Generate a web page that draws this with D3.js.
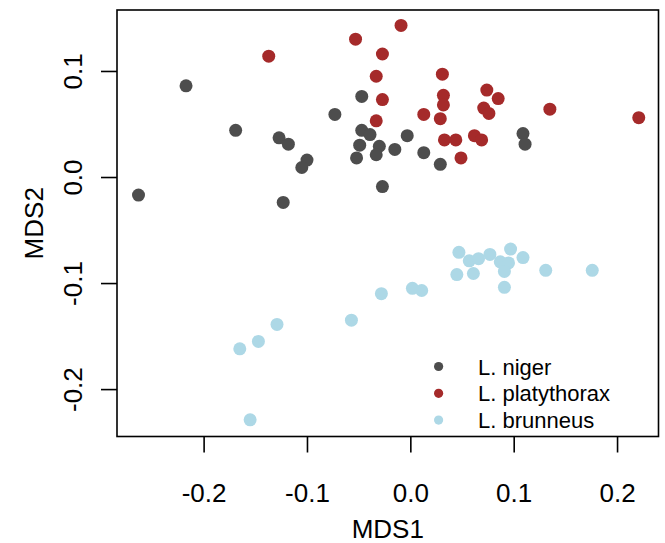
<!DOCTYPE html>
<html>
<head>
<meta charset="utf-8">
<script src="https://cdn.jsdelivr.net/npm/d3@7"></script>
<style>
  body { margin: 0; background: #fff; }
  svg { font-family: "Liberation Sans", Arial, sans-serif; }
</style>
</head>
<body>
<div id="chart"></div>
<script>
// species and their colours
var species = ['L. niger', 'L. platythorax', 'L. brunneus'];
var colors = ['#4d4d4d', '#a52a2a', '#add8e6'];

// MDS coordinates
var nigerX = [-0.263, -0.217, -0.169, -0.127, -0.118, -0.100, -0.105, -0.123, -0.073, -0.047, -0.047, -0.039,
              -0.049, -0.052, -0.030, -0.033, -0.015, -0.003, -0.027, 0.013, 0.029, 0.109, 0.111];
var nigerY = [-0.017, 0.086, 0.044, 0.037, 0.031, 0.016, 0.009, -0.024, 0.059, 0.076, 0.044, 0.040,
              0.030, 0.018, 0.029, 0.021, 0.026, 0.039, -0.009, 0.023, 0.012, 0.041, 0.031];
var platyX = [-0.009, -0.053, -0.137, -0.027, -0.033, -0.027, -0.033, 0.031, 0.032, 0.032, 0.013, 0.029,
              0.074, 0.085, 0.071, 0.076, 0.135, 0.221, 0.033, 0.044, 0.062, 0.069, 0.049];
var platyY = [0.143, 0.130, 0.114, 0.116, 0.095, 0.073, 0.053, 0.097, 0.077, 0.068, 0.059, 0.055,
              0.082, 0.074, 0.065, 0.060, 0.064, 0.056, 0.035, 0.035, 0.039, 0.035, 0.018];
var brunX = [-0.155, -0.165, -0.147, -0.129, -0.057, -0.028, 0.002, 0.011, 0.047, 0.057, 0.066, 0.077,
             0.097, 0.109, 0.087, 0.095, 0.091, 0.045, 0.061, 0.091, 0.131, 0.176];
var brunY = [-0.229, -0.162, -0.155, -0.139, -0.135, -0.110, -0.105, -0.107, -0.071, -0.079, -0.077, -0.073,
             -0.068, -0.076, -0.080, -0.081, -0.089, -0.092, -0.091, -0.104, -0.088, -0.088];

var xTicks = [-0.2, -0.1, 0.0, 0.1, 0.2];
var yTicks = [-0.2, -0.1, 0.0, 0.1];

var width = 665, height = 543;
var box = {left: 117, right: 658.5, top: 10, bottom: 436.5};

var groups = [
  {name: species[0], color: colors[0], xs: nigerX, ys: nigerY},
  {name: species[1], color: colors[1], xs: platyX, ys: platyY},
  {name: species[2], color: colors[2], xs: brunX, ys: brunY}
];

var x = d3.scaleLinear().domain([-0.2838, 0.2401]).range([box.left, box.right]);
var y = d3.scaleLinear().domain([-0.2447, 0.1575]).range([box.bottom, box.top]);

// R prints a plain hyphen as the minus sign
var fmt = function(d){ return d.toFixed(1); };

var svg = d3.select('#chart').append('svg')
    .attr('width', width)
    .attr('height', height);

// points
groups.forEach(function(g){
    svg.append('g').selectAll('circle')
        .data(g.xs.map(function(d, i){ return [d, g.ys[i]]; }))
        .enter().append('circle')
        .attr('cx', function(d){ return x(d[0]); })
        .attr('cy', function(d){ return y(d[1]); })
        .attr('r', 6.5)
        .attr('fill', g.color);
});

// plot frame
svg.append('rect')
    .attr('x', box.left).attr('y', box.top)
    .attr('width', box.right - box.left).attr('height', box.bottom - box.top)
    .attr('fill', 'none').attr('stroke', '#000').attr('stroke-width', 1.6);

// axes
var xAxis = svg.append('g')
    .attr('transform', 'translate(0,' + box.bottom + ')')
    .call(d3.axisBottom(x).tickValues(xTicks).tickSize(16).tickSizeOuter(0).tickFormat(fmt));
xAxis.select('.domain').remove();
xAxis.selectAll('line').attr('stroke', '#000').attr('stroke-width', 1.6);
xAxis.selectAll('text')
    .attr('y', 0).attr('dy', 0)
    .attr('transform', 'translate(0,65)')
    .style('font-size', '26px').style('font-family', 'Liberation Sans, Arial, sans-serif')
    .attr('fill', '#000');

var yAxis = svg.append('g')
    .attr('transform', 'translate(' + box.left + ',0)')
    .call(d3.axisLeft(y).tickValues(yTicks).tickSize(16).tickSizeOuter(0).tickFormat(fmt));
yAxis.select('.domain').remove();
yAxis.selectAll('line').attr('stroke', '#000').attr('stroke-width', 1.6);
yAxis.selectAll('text')
    .attr('x', 0).attr('dy', 0)
    .attr('text-anchor', 'middle')
    .attr('transform', 'translate(-35,0) rotate(-90)')
    .style('font-size', '26px').style('font-family', 'Liberation Sans, Arial, sans-serif')
    .attr('fill', '#000');

// axis titles
svg.append('text')
    .attr('x', (box.left + box.right) / 2).attr('y', 538)
    .attr('text-anchor', 'middle')
    .style('font-size', '26px')
    .text('MDS1');

svg.append('text')
    .attr('transform', 'translate(43,' + ((box.top + box.bottom) / 2) + ') rotate(-90)')
    .attr('text-anchor', 'middle')
    .style('font-size', '26px')
    .text('MDS2');

// legend
var legend = svg.append('g');
species.forEach(function(s, i){
    var ly = 366.5 + i * 26.8;
    legend.append('circle')
        .attr('cx', 438.6).attr('cy', ly).attr('r', 4.6)
        .attr('fill', colors[i]);
    legend.append('text')
        .attr('x', 478).attr('y', ly + 8)
        .style('font-size', '22px')
        .text(s);
});
</script>
</body>
</html>
